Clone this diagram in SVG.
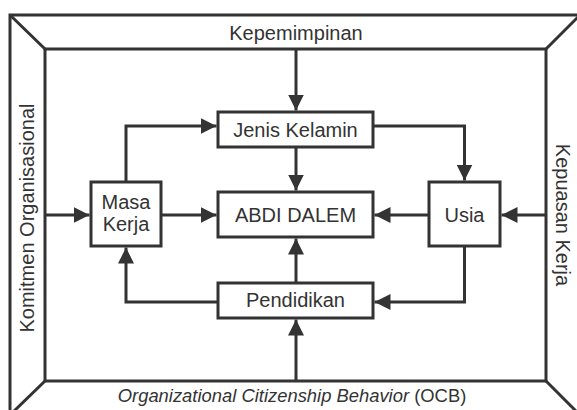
<svg xmlns="http://www.w3.org/2000/svg" width="577" height="410" viewBox="0 0 577 410">
<style>
.frame{fill:none;stroke:#333;stroke-width:3}
.box{fill:#fff;stroke:#333;stroke-width:3}
.con{fill:none;stroke:#333;stroke-width:3;marker-end:url(#ah)}
text{font-family:"Liberation Sans",Arial,sans-serif;font-size:20px;fill:#333;text-anchor:middle}
</style>
<defs>
<marker id="ah" viewBox="0 0 16 16" refX="16" refY="8" markerWidth="16" markerHeight="16" markerUnits="userSpaceOnUse" orient="auto">
<path d="M0,0 L16,8 L0,16 z" fill="#333"/>
</marker>
</defs>
<g id="frame">
<rect class="frame" x="10" y="15" width="570" height="400"/>
<rect class="frame" x="45" y="49" width="501" height="332"/>
<path class="frame" d="M10,15 L45,49 M580,15 L546,49 M10,415 L45,381 M580,415 L546,381"/>
<text x="296" y="40">Kepemimpinan</text>
<text transform="translate(34,218) rotate(-90)">Komitmen Organisasional</text>
<text transform="translate(556,215) rotate(90)">Kepuasan Kerja</text>
<text x="292" y="402" style="font-size:18.4px"><tspan font-style="italic">Organizational Citizenship Behavior</tspan> (OCB)</text>
</g>
<g id="connectors">
<path class="con" d="M296,49 L296,110.5"/>
<path class="con" d="M296,147 L296,190.5"/>
<path class="con" d="M296,283 L296,238.5"/>
<path class="con" d="M296,381 L296,319.5"/>
<path class="con" d="M126,182 L126,126 L216.5,126"/>
<path class="con" d="M373,126 L464.5,126 L464.5,180.5"/>
<path class="con" d="M161,215 L216.5,215"/>
<path class="con" d="M429,215 L374.5,215"/>
<path class="con" d="M45,215 L89.5,215"/>
<path class="con" d="M546,215 L501.5,215"/>
<path class="con" d="M218,302 L126,302 L126,247.5"/>
<path class="con" d="M464.5,246 L464.5,302 L374.5,302"/>
</g>
<g id="jenis-kelamin">
<rect class="box" x="218" y="112" width="155" height="35"/>
<text x="295.5" y="136.5">Jenis Kelamin</text>
</g>
<g id="abdi-dalem">
<rect class="box" x="218" y="192" width="155" height="45"/>
<text x="295.5" y="222">ABDI DALEM</text>
</g>
<g id="pendidikan">
<rect class="box" x="218" y="283" width="155" height="35"/>
<text x="295.5" y="307">Pendidikan</text>
</g>
<g id="masa-kerja">
<rect class="box" x="91" y="182" width="70" height="64"/>
<text x="126" y="209">Masa</text>
<text x="126" y="231">Kerja</text>
</g>
<g id="usia">
<rect class="box" x="429" y="182" width="71" height="64"/>
<text x="464.5" y="221.5">Usia</text>
</g>
</svg>
